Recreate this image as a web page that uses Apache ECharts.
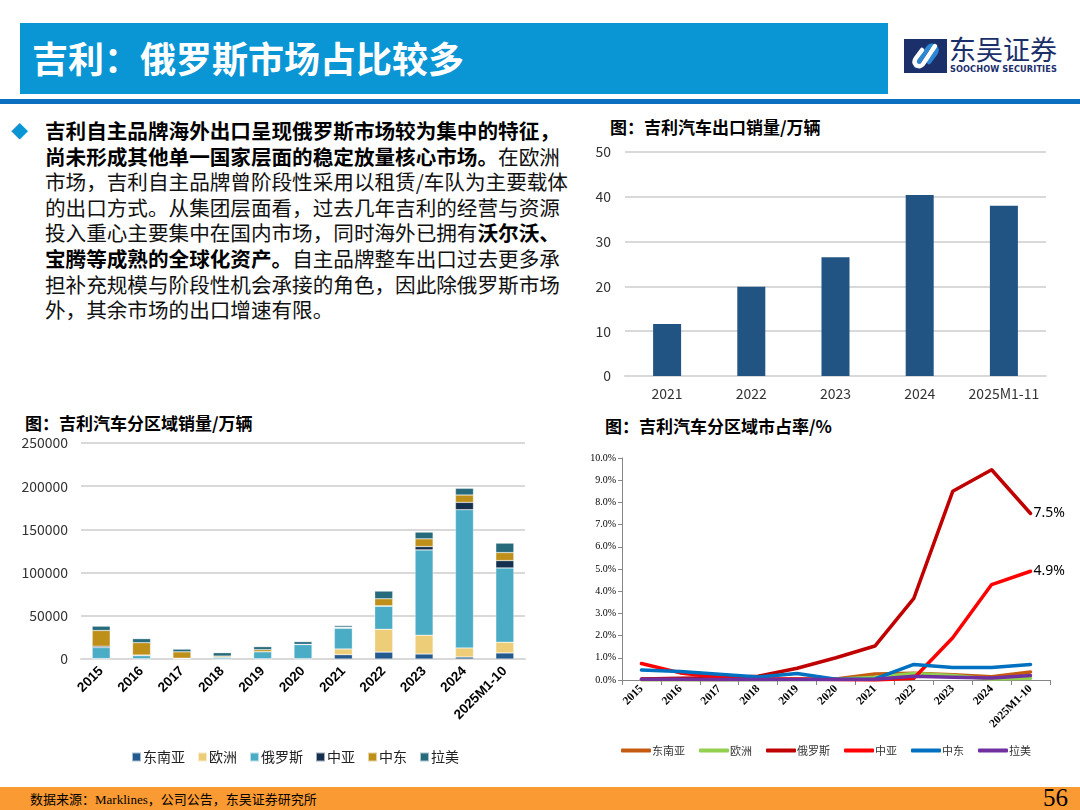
<!DOCTYPE html>
<html>
<head>
<meta charset="utf-8">
<script src="https://cdn.jsdelivr.net/npm/echarts@6/dist/echarts.min.js"></script>
<style>
  body { margin: 0; width: 1080px; height: 810px; position: relative; background: #fff; overflow: hidden;
         font-family: "Noto Sans CJK SC", sans-serif; }
  .abs { position: absolute; }
  #head { left: 20px; top: 23px; width: 868px; height: 71px; background: #0A95D5; }
  #head span { position: absolute; left: 12px; top: 10px; color: #fff; font-size: 36px; font-weight: bold; line-height: 48px; letter-spacing: 0px; }
  #rule { left: 0; top: 99px; width: 1080px; height: 5px; background: #0B70BF; }
  #logo-cn { left: 949px; top: 32px; font-size: 27px; color: #1B2F6B; line-height: 34px; }
  #logo-en { left: 950px; top: 64px; font-size: 8.2px; font-weight: bold; color: #1B2F6B; font-family: "DejaVu Sans", sans-serif; letter-spacing: 0.1px; }
  #bullet { left: 11px; top: 118px; color: #0A95D5; font-size: 17px; }
  #para { left: 45px; top: 118px; font-size: 20.6px; line-height: 25.6px; color: #111; white-space: nowrap; }
  #para b { color: #000; }
  .ctitle { font-size: 17px; font-weight: bold; color: #000; white-space: nowrap; }
  #foot { left: 0; top: 787px; width: 1080px; height: 23px; background: #FA9A32; }
  #foot .src { position: absolute; left: 30px; top: 2px; font-size: 13px; color: #000; line-height: 19px; }
  #foot .src i { font-style: normal; font-family: "Liberation Serif", serif; }
  #foot .pg { position: absolute; right: 12px; top: -3px; font-size: 25px; font-family: "Liberation Serif", serif; color: #000; }
</style>
</head>
<body>
<div id="head" class="abs"><span>吉利：俄罗斯市场占比较多</span></div>
<svg class="abs" style="left:904px;top:39px" width="43" height="34" viewBox="0 0 43 34">
  <rect width="43" height="34" fill="#1B2F6B"/>
  <path d="M12 27 L24 9 Q27 5 31 8 Q34 11 31 15 L25 23" fill="none" stroke="#2C86D2" stroke-width="4.5" stroke-linecap="round"/>
  <path d="M31 7 L19 25 Q16 29 12 26 Q9 23 12 19 L18 11" fill="none" stroke="#fff" stroke-width="4.5" stroke-linecap="round"/>
</svg>
<div id="logo-cn" class="abs">东吴证券</div>
<div id="logo-en" class="abs">SOOCHOW SECURITIES</div>
<div id="rule" class="abs"></div>

<div id="bullet" class="abs">◆</div>
<div id="para" class="abs">
<b>吉利自主品牌海外出口呈现俄罗斯市场较为集中的特征，</b><br>
<b>尚未形成其他单一国家层面的稳定放量核心市场。</b>在欧洲<br>
市场，吉利自主品牌曾阶段性采用以租赁/车队为主要载体<br>
的出口方式。从集团层面看，过去几年吉利的经营与资源<br>
投入重心主要集中在国内市场，同时海外已拥有<b>沃尔沃、</b><br>
<b>宝腾等成熟的全球化资产。</b>自主品牌整车出口过去更多承<br>
担补充规模与阶段性机会承接的角色，因此除俄罗斯市场<br>
外，其余市场的出口增速有限。
</div>

<div class="abs ctitle" style="left:610px;top:114px">图：吉利汽车出口销量/万辆</div>
<div class="abs ctitle" style="left:25px;top:410px">图：吉利汽车分区域销量/万辆</div>
<div class="abs ctitle" style="left:605px;top:413px">图：吉利汽车分区域市占率/%</div>

<div id="exportChart" class="abs" style="left:580px;top:140px;width:480px;height:270px"></div>
<div id="regionChart" class="abs" style="left:0px;top:430px;width:560px;height:350px"></div>
<div id="shareChart" class="abs" style="left:580px;top:440px;width:500px;height:330px"></div>

<div id="foot" class="abs">
  <div class="src">数据来源：<i>Marklines</i>，公司公告，东吴证券研究所</div>
  <div class="pg">56</div>
</div>

<script>
// 出口销量（万辆）
const exportYears = ["2021", "2022", "2023", "2024", "2025M1-11"];
const exportVolume = [11.6, 19.9, 26.5, 40.4, 38.0];

// 分区域销量（辆）
const regionYears = ["2015", "2016", "2017", "2018", "2019", "2020", "2021", "2022", "2023", "2024", "2025M1-10"];
const regionNames = ["东南亚", "欧洲", "俄罗斯", "中亚", "中东", "拉美"];
const salesSEA = [300, 200, 200, 100, 200, 200, 5000, 8000, 5800, 2300, 7000];
const salesEurope = [200, 100, 100, 100, 100, 200, 6600, 26400, 21700, 10500, 12400];
const salesRussia = [12800, 3500, 500, 1900, 8100, 16300, 24000, 26700, 98800, 160000, 86000];
const salesCentralAsia = [1500, 800, 100, 100, 100, 100, 800, 500, 3900, 8500, 8500];
const salesMiddleEast = [18200, 14300, 7400, 1200, 2300, 200, 500, 8100, 8900, 8500, 9300];
const salesLatAm = [5000, 4650, 3100, 3900, 3500, 3100, 1800, 8900, 7750, 7750, 10900];

// 分区域市占率（%）
const shareSEA = [0.02, 0.02, 0.02, 0.03, 0.03, 0.05, 0.27, 0.30, 0.24, 0.15, 0.36];
const shareEurope = [0.01, 0.01, 0.01, 0.01, 0.02, 0.03, 0.12, 0.29, 0.20, 0.05, 0.08];
const shareRussia = [0.05, 0.08, 0.10, 0.17, 0.53, 1.00, 1.53, 3.68, 8.50, 9.47, 7.50];
const shareCentralAsia = [0.74, 0.32, 0.12, 0.05, 0.04, 0.02, 0.00, 0.08, 1.90, 4.30, 4.90];
const shareMiddleEast = [0.45, 0.38, 0.26, 0.14, 0.29, 0.03, 0.05, 0.70, 0.56, 0.56, 0.70];
const shareLatAm = [0.03, 0.03, 0.02, 0.02, 0.02, 0.02, 0.03, 0.17, 0.12, 0.09, 0.20];

const barColors = ["#245A8D", "#EECD79", "#4BACC6", "#15304F", "#BE9019", "#266A7B"];
const lineColors = ["#C55A11", "#92D050", "#C00000", "#FF0000", "#0070C0", "#7030A0"];

// 图1：出口销量
(() => {
  let myChart = echarts.init(document.querySelector("#exportChart"));
  let option = {
    animation: false,
    grid: { left: 45, right: 14, top: 12, bottom: 34 },
    xAxis: {
      type: "category",
      data: exportYears,
      axisLine: { lineStyle: { color: "#D9D9D9", width: 2 } },
      axisTick: { show: false },
      axisLabel: { interval: 0, color: "#333", fontSize: 14, margin: 11, fontFamily: "Noto Sans CJK SC" },
    },
    yAxis: {
      type: "value",
      min: 0,
      max: 50,
      interval: 10,
      axisLabel: { color: "#333", fontSize: 14, margin: 14, fontFamily: "Noto Sans CJK SC" },
      splitLine: { lineStyle: { color: "#D9D9D9", width: 2 } },
    },
    series: [
      {
        type: "bar",
        data: exportVolume,
        barWidth: 28,
        itemStyle: { color: "#215483" },
      },
    ],
  };
  myChart.setOption(option);
})();

// 图2：分区域销量
(() => {
  let myChart = echarts.init(document.querySelector("#regionChart"));
  const salesData = [salesSEA, salesEurope, salesRussia, salesCentralAsia, salesMiddleEast, salesLatAm];
  let option = {
    animation: false,
    color: barColors,
    legend: {
      data: regionNames,
      left: 126,
      top: 315,
      icon: "rect",
      itemWidth: 9,
      itemHeight: 9,
      itemGap: 12,
      textStyle: { fontSize: 14, color: "#222", fontFamily: "Noto Sans CJK SC", padding: [0, 0, 0, -3] },
    },
    grid: { left: 81, right: 35, top: 13, bottom: 121 },
    xAxis: {
      type: "category",
      data: regionYears,
      axisLine: { lineStyle: { color: "#D9D9D9", width: 2 } },
      axisTick: { show: false },
      axisLabel: {
        interval: 0,
        rotate: 45,
        color: "#000",
        fontSize: 13.5,
        fontWeight: "bold",
        fontFamily: "Liberation Sans",
        margin: 10,
      },
    },
    yAxis: {
      type: "value",
      min: 0,
      max: 250000,
      interval: 50000,
      axisLabel: { color: "#333", fontSize: 14, margin: 13, fontFamily: "Noto Sans CJK SC", formatter: (v) => String(v) },
      splitLine: { lineStyle: { color: "#D9D9D9", width: 2 } },
    },
    series: regionNames.map((name, i) => ({
      name: name,
      type: "bar",
      stack: "total",
      barWidth: 18,
      data: salesData[i],
      itemStyle: { borderColor: "rgba(255,255,255,0.6)", borderWidth: 0.5 },
    })),
  };
  myChart.setOption(option);
})();

// 图3：分区域市占率
(() => {
  let myChart = echarts.init(document.querySelector("#shareChart"));
  const shareData = [shareSEA, shareEurope, shareRussia, shareCentralAsia, shareMiddleEast, shareLatAm];
  let option = {
    animation: false,
    color: lineColors,
    legend: {
      data: regionNames,
      left: 36,
      top: 300,
      icon: "roundRect",
      itemWidth: 30,
      itemHeight: 4,
      itemGap: 14,
      textStyle: { fontSize: 11, color: "#333", fontFamily: "Noto Sans CJK SC", padding: [0, 0, 0, -4] },
    },
    grid: { left: 42, right: 30, top: 18, bottom: 90 },
    xAxis: {
      type: "category",
      data: regionYears,
      boundaryGap: true,
      axisLine: { lineStyle: { color: "#868686", width: 1 } },
      axisTick: { show: true, length: 5, lineStyle: { color: "#868686" } },
      axisLabel: {
        interval: 0,
        rotate: 45,
        color: "#000",
        fontSize: 11.5,
        fontWeight: "bold",
        fontFamily: "Liberation Serif",
        margin: 7,
      },
    },
    yAxis: {
      type: "value",
      min: 0,
      max: 10,
      interval: 1,
      axisLine: { show: true, lineStyle: { color: "#868686", width: 1 } },
      axisTick: { show: true, length: 4, lineStyle: { color: "#868686" } },
      axisLabel: {
        color: "#000",
        fontSize: 10,
        fontFamily: "Liberation Serif",
        margin: 6,
        formatter: (v) => v.toFixed(1) + "%",
      },
      splitLine: { show: false },
    },
    series: regionNames.map((name, i) => ({
      name: name,
      type: "line",
      data: shareData[i],
      symbol: "none",
      lineStyle: { width: 3.5, cap: "round", join: "round" },
      endLabel: {
        show: name === "俄罗斯" || name === "中亚",
        formatter: (p) => p.value.toFixed(1) + "%",
        fontSize: 14,
        color: "#000",
        fontFamily: "Noto Sans",
        distance: 3,
      },
    })),
  };
  myChart.setOption(option);
})();
</script>
</body>
</html>
